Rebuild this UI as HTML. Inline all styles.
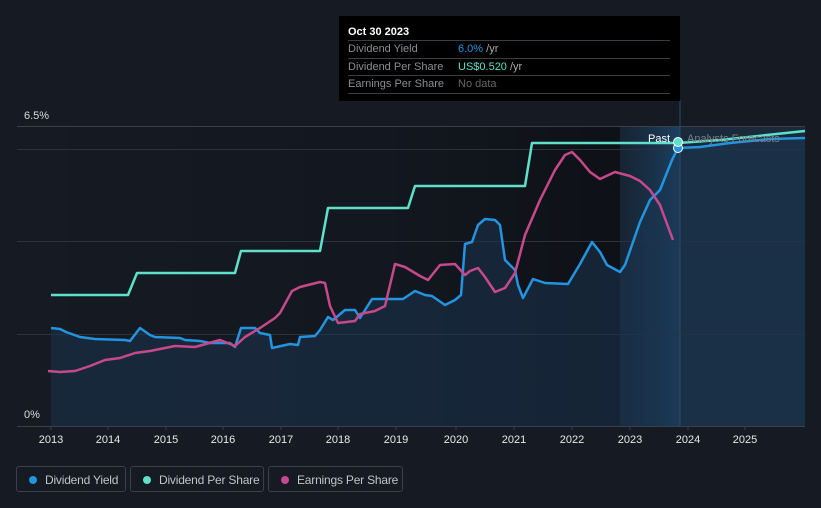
<!DOCTYPE html>
<html><head><meta charset="utf-8"><style>
body{margin:0;background:#151a23;width:821px;height:508px;overflow:hidden;font-family:"Liberation Sans",sans-serif}
svg{position:absolute;left:0;top:0}
.tt{position:absolute;left:339px;top:16px;width:341px;height:85px;background:#000;color:#fff;font-size:11px}
.tt .h{position:absolute;left:9px;top:10px;font-weight:bold;font-size:11px}
.row{position:absolute;left:9px;width:322px;height:17px;border-top:1px solid #3a3d42;color:#8a8d93;line-height:17px}
.row span{position:absolute;left:110px}
.lg{position:absolute;top:466px;height:26px;border:1px solid #3a3f48;border-radius:3px;color:#c0c3c8;font-size:12px;line-height:26px;box-sizing:border-box;white-space:nowrap}
.lg i{position:absolute;left:12px;top:9px;width:8px;height:8px;border-radius:50%}
.lg b{position:absolute;left:28px;font-weight:normal;letter-spacing:-0.2px}
</style></head><body>
<svg width="821" height="508">
<defs>
<linearGradient id="dk" x1="0" x2="1"><stop offset="0" stop-color="#000" stop-opacity="0"/><stop offset="0.6" stop-color="#000" stop-opacity="0.1"/><stop offset="1" stop-color="#000" stop-opacity="0.35"/></linearGradient>
<linearGradient id="hl" x1="0" x2="1"><stop offset="0" stop-color="#1a3a5a" stop-opacity="0.3"/><stop offset="1" stop-color="#1d4a70" stop-opacity="0.8"/></linearGradient>
</defs>
<rect x="17" y="126" width="603" height="300" fill="url(#dk)"/>
<rect x="620" y="126" width="60" height="300" fill="url(#hl)"/>
<rect x="680" y="126" width="125" height="300" fill="#1a2a3c"/>
<g stroke="#2c313a" stroke-width="1">
<line x1="17" x2="805" y1="126.5" y2="126.5" stroke="#3a3f48"/>
<line x1="17" x2="805" y1="149.5" y2="149.5"/>
<line x1="17" x2="805" y1="241.5" y2="241.5"/>
<line x1="17" x2="805" y1="334.5" y2="334.5"/>
<line x1="17" x2="805" y1="426.5" y2="426.5" stroke="#3a3f48"/>
</g>
<path fill="#1c3550" fill-opacity="0.55" d="M51,426 L51,328 60,329 66,332 80,337 95,339 125,340 130,341 140,328 150,335 155,337 180,338 185,340 200,341 210,343 230,343 235,347 241,328 255,328 260,333 270,335 272,348 290,344 298,345 300,337 315,336 320,330 328,317 333,320 345,310 355,310 360,318 372,299 403,299 415,291 425,295 432,296 445,305 455,300 461,295 465,244 472,242 478,225 485,219 495,220 500,225 505,260 515,270 518,285 523,298 533,279 545,283 568,284 580,264 592,242 600,252 607,265 620,272 625,265 640,222 650,200 660,190 672,160 678,148 700,147 730,143 770,139 805,138 L805,426 Z"/>
<polyline fill="none" stroke="#2394df" stroke-width="2.5" stroke-linejoin="round" points="51,328 60,329 66,332 80,337 95,339 125,340 130,341 140,328 150,335 155,337 180,338 185,340 200,341 210,343 230,343 235,347 241,328 255,328 260,333 270,335 272,348 290,344 298,345 300,337 315,336 320,330 328,317 333,320 345,310 355,310 360,318 372,299 403,299 415,291 425,295 432,296 445,305 455,300 461,295 465,244 472,242 478,225 485,219 495,220 500,225 505,260 515,270 518,285 523,298 533,279 545,283 568,284 580,264 592,242 600,252 607,265 620,272 625,265 640,222 650,200 660,190 672,160 678,148 700,147 730,143 770,139 805,138"/>
<polyline fill="none" stroke="#5ee0cb" stroke-width="2.5" stroke-linejoin="round" points="51,295 128,295 137,273 235,273 241,251 320,251 328,208 408,208 415,186 525,186 532,143 678,143 720,140 805,131"/>
<polyline fill="none" stroke="#c7498c" stroke-width="2.5" stroke-linejoin="round" points="48,371 60,372 75,371 90,366 105,360 120,358 135,353 150,351 175,346 195,347 220,340 235,346 245,337 260,328 275,318 280,313 292,291 300,287 320,282 325,283 330,306 338,323 355,321 360,314 375,311 385,306 395,264 405,267 420,276 428,280 440,265 455,264 465,275 470,271 478,268 485,277 495,292 505,288 515,273 525,235 540,200 555,170 565,155 572,152 580,160 590,172 600,179 615,172 630,176 640,181 650,190 660,205 673,240"/>
<line x1="680" x2="680" y1="100" y2="426" stroke="#2a4a6a" stroke-width="1"/>
<circle cx="678" cy="148" r="4.5" fill="#2394df" stroke="#fff" stroke-width="1"/>
<circle cx="678" cy="142" r="4.5" fill="#5ee0cb" stroke="#fff" stroke-width="1"/>
<text x="648" y="142" fill="#fff" font-size="11">Past</text>
<text x="687" y="142" fill="#7b7f86" font-size="11">Analysts Forecasts</text>
<text x="24" y="119" fill="#ddd" font-size="11">6.5%</text>
<text x="24" y="418" fill="#ddd" font-size="11">0%</text>
<g fill="#e8e8e8" font-size="11" text-anchor="middle">
<text x="51" y="443">2013</text><text x="108" y="443">2014</text><text x="166" y="443">2015</text><text x="223" y="443">2016</text><text x="281" y="443">2017</text><text x="338" y="443">2018</text><text x="396" y="443">2019</text><text x="456" y="443">2020</text><text x="514" y="443">2021</text><text x="572" y="443">2022</text><text x="630" y="443">2023</text><text x="688" y="443">2024</text><text x="745" y="443">2025</text>
</g>
<g stroke="#3a3f48"><line x1="51" x2="51" y1="426" y2="430"/><line x1="108" x2="108" y1="426" y2="430"/><line x1="166" x2="166" y1="426" y2="430"/><line x1="223" x2="223" y1="426" y2="430"/><line x1="281" x2="281" y1="426" y2="430"/><line x1="338" x2="338" y1="426" y2="430"/><line x1="396" x2="396" y1="426" y2="430"/><line x1="456" x2="456" y1="426" y2="430"/><line x1="514" x2="514" y1="426" y2="430"/><line x1="572" x2="572" y1="426" y2="430"/><line x1="630" x2="630" y1="426" y2="430"/><line x1="688" x2="688" y1="426" y2="430"/><line x1="745" x2="745" y1="426" y2="430"/></g>
</svg>
<div class="tt"><div class="h">Oct 30 2023</div>
<div class="row" style="top:24px">Dividend Yield<span><em style="font-style:normal;color:#2394df">6.0%</em> <em style="font-style:normal;color:#aaa">/yr</em></span></div>
<div class="row" style="top:42px">Dividend Per Share<span><em style="font-style:normal;color:#5ee0cb">US$0.520</em> <em style="font-style:normal;color:#aaa">/yr</em></span></div>
<div class="row" style="top:59px;border-bottom:1px solid #3a3d42">Earnings Per Share<span style="color:#666">No data</span></div>
</div>
<div class="lg" style="left:16px;width:110px"><i style="background:#2394df"></i><b>Dividend Yield</b></div>
<div class="lg" style="left:130px;width:134px"><i style="background:#5ee0cb"></i><b>Dividend Per Share</b></div>
<div class="lg" style="left:268px;width:135px"><i style="background:#c7498c"></i><b>Earnings Per Share</b></div>
</body></html>
